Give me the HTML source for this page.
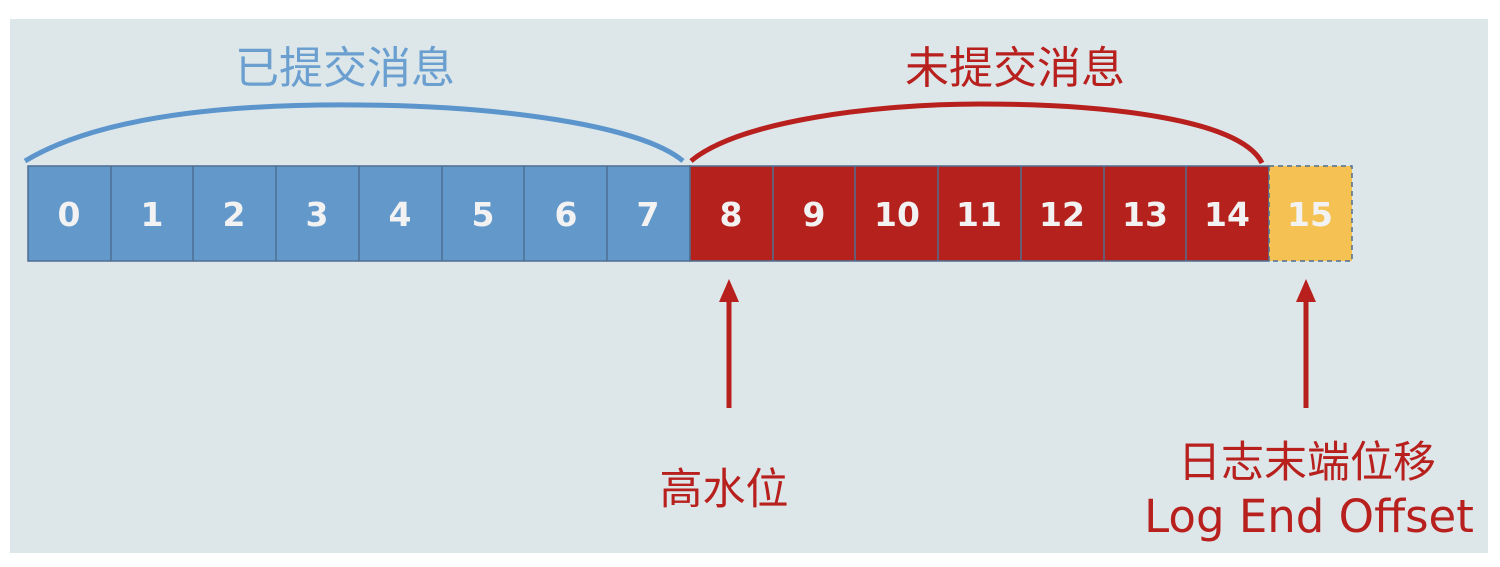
<!DOCTYPE html>
<html><head><meta charset="utf-8"><style>
body{margin:0;background:#fff;width:1500px;height:567px;overflow:hidden}
svg{display:block}
</style></head><body>
<svg width="1500" height="567" viewBox="0 0 1500 567" xmlns="http://www.w3.org/2000/svg">
<rect x="10" y="19" width="1478" height="534" fill="#dde7ea"/>
<g font-family="Liberation Sans, Noto Sans CJK SC, sans-serif">
<text x="345" y="83" font-size="44" fill="#6a9fd0" text-anchor="middle">已提交消息</text>
<text x="1015" y="83" font-size="44" fill="#b8201e" text-anchor="middle">未提交消息</text>
</g>
<path d="M25,161 C110,110 260,104 360,105 C500,106 640,125 683,161" fill="none" stroke="#5b95cc" stroke-width="5"/>
<path d="M691,161 C740,120 880,104 980,104 C1100,104 1240,118 1262,163" fill="none" stroke="#b8201e" stroke-width="5"/>
<g stroke="#4e6f91" stroke-width="1.5">
<rect x="28" y="166" width="662" height="95" fill="#6398cb"/>
<rect x="690" y="166" width="579" height="95" fill="#b5211d"/>
</g>
<rect x="1269" y="166" width="83" height="95" fill="#f5c152" stroke="#4e6f91" stroke-width="1.5" stroke-dasharray="5,4"/>
<g stroke="#4e6f91" stroke-width="1.5">
<line x1="111" y1="166" x2="111" y2="261"/><line x1="193" y1="166" x2="193" y2="261"/><line x1="276" y1="166" x2="276" y2="261"/><line x1="359" y1="166" x2="359" y2="261"/><line x1="442" y1="166" x2="442" y2="261"/><line x1="524" y1="166" x2="524" y2="261"/><line x1="607" y1="166" x2="607" y2="261"/>
<line x1="773" y1="166" x2="773" y2="261"/><line x1="855" y1="166" x2="855" y2="261"/><line x1="938" y1="166" x2="938" y2="261"/><line x1="1021" y1="166" x2="1021" y2="261"/><line x1="1104" y1="166" x2="1104" y2="261"/><line x1="1186" y1="166" x2="1186" y2="261"/>
</g>
<g font-family="DejaVu Sans, sans-serif" font-size="33" font-weight="bold" fill="#f2f2f2" text-anchor="middle">
<text x="69" y="226">0</text><text x="152" y="226">1</text><text x="234" y="226">2</text><text x="317" y="226">3</text><text x="400" y="226">4</text><text x="483" y="226">5</text><text x="566" y="226">6</text><text x="648" y="226">7</text>
<text x="731" y="226">8</text><text x="814" y="226">9</text><text x="897" y="226">10</text><text x="979" y="226">11</text><text x="1062" y="226">12</text><text x="1145" y="226">13</text><text x="1227" y="226">14</text><text x="1310" y="226">15</text>
</g>
<g fill="#b8201e" stroke="#b8201e">
<line x1="729" y1="300" x2="729" y2="408" stroke-width="5"/>
<polygon points="729,279 719,302 739,302" stroke="none"/>
<line x1="1306" y1="300" x2="1306" y2="408" stroke-width="5"/>
<polygon points="1306,279 1296,302 1316,302" stroke="none"/>
</g>
<g font-family="Liberation Sans, Noto Sans CJK SC, sans-serif" font-size="43" fill="#b8201e" text-anchor="middle">
<text x="724" y="504">高水位</text>
<text x="1307" y="477">日志末端位移</text>
</g>
<text x="1309" y="532" font-family="DejaVu Sans, sans-serif" font-size="45" fill="#b8201e" text-anchor="middle">Log End Offset</text>
</svg>
</body></html>
